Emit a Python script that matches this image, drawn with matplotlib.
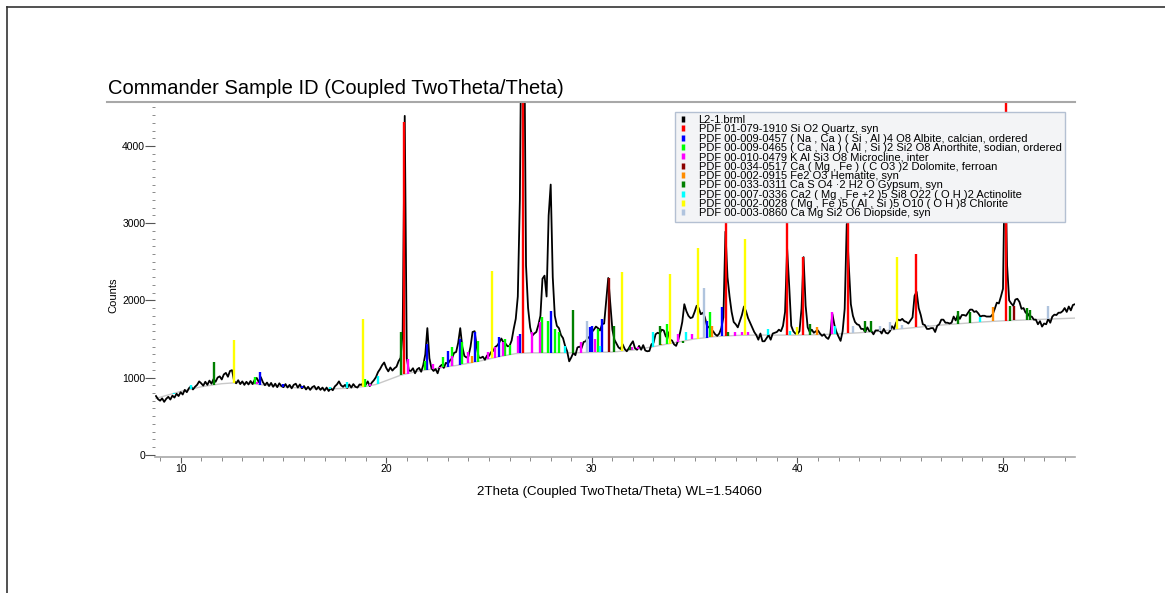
import matplotlib
matplotlib.use("Agg")
import matplotlib.pyplot as plt
from matplotlib.lines import Line2D
import numpy as np

plt.rcParams['font.family'] = ['Liberation Sans', 'DejaVu Sans']

# Measured pattern, 0.1 deg steps starting at 8.8 deg (one row per degree)
theta_start = 8.8
theta_step = 0.1
counts = [
    760, 720,
    700, 730, 685, 725, 750, 715, 765, 740, 790, 760,
    810, 780, 840, 810, 860, 885, 845, 880, 905, 950,
    925, 895, 945, 905, 960, 920, 980, 945, 1000, 1015,
    975, 1040, 1060, 1010, 1085, 1095, 955, 925, 965, 915,
    950, 905, 945, 910, 955, 915, 970, 995, 940, 1005,
    940, 900, 935, 890, 930, 880, 920, 875, 925, 890,
    875, 915, 870, 905, 860, 905, 920, 870, 910, 860,
    890, 845, 880, 840, 875, 890, 845, 880, 840, 870,
    830, 870, 825, 860, 835, 885, 910, 950, 900, 880,
    905, 865, 910, 870, 915, 880, 870, 910, 905, 940,
    905, 950, 890, 935, 965, 1005, 1070, 1110, 1160, 1195,
    1125, 1080, 1130, 1090, 1120, 1140, 1210, 1255, 1600, 4390,
    1250, 1090, 1085, 1120, 1055, 1105, 1125, 1075, 1160, 1300,
    1640, 1250, 1120, 1085, 1110, 1055, 1140, 1165, 1125, 1190,
    1180, 1220, 1250, 1320, 1330, 1450, 1640, 1400, 1280, 1260,
    1275, 1400, 1590, 1600, 1400, 1260, 1255, 1270, 1230, 1285,
    1280, 1330, 1345, 1395, 1415, 1455, 1505, 1455, 1440, 1405,
    1410, 1480, 1630, 1760, 2050, 3300, 6500, 6000, 2450, 1900,
    1650, 1540, 1570, 1590, 1680, 1800, 2280, 2320, 2050, 3100,
    3500, 2300, 1800, 1670, 1640, 1550, 1510, 1410, 1340, 1210,
    1260, 1320, 1290, 1390, 1400, 1380, 1460, 1470, 1510, 1530,
    1590, 1620, 1660, 1640, 1610, 1690, 1700, 2000, 2290, 1950,
    1620, 1490, 1440, 1390, 1370, 1430, 1370, 1340, 1380, 1430,
    1470, 1380, 1360, 1410, 1360, 1420, 1350, 1340, 1345, 1430,
    1450, 1560, 1580, 1570, 1620, 1610, 1530, 1590, 1490, 1480,
    1430, 1410, 1480, 1590, 1720, 1950, 1860, 1800, 1770, 1780,
    1850, 1930, 1900, 1820, 1840, 1780, 1670, 1650, 1620, 1600,
    1560, 1540, 1570, 1640, 1780, 2890, 2300, 2050, 1850, 1720,
    1690, 1650, 1730, 1810, 1920, 1860, 1770, 1710, 1650, 1590,
    1550, 1490, 1570, 1470, 1470, 1510, 1550, 1490, 1570, 1580,
    1590, 1620, 1600, 1670, 1850, 2670, 2190, 1670, 1600, 1570,
    1565, 1600, 1890, 2560, 1930, 1650, 1590, 1620, 1580, 1600,
    1610, 1570, 1540, 1560, 1520, 1500, 1560, 1825, 1680, 1590,
    1530, 1475, 1600, 1890, 2990, 2450, 1950, 1800, 1720, 1690,
    1680, 1630, 1630, 1590, 1650, 1600, 1600, 1560, 1610, 1610,
    1610, 1570, 1630, 1580, 1570, 1600, 1665, 1630, 1710, 1750,
    1740, 1760, 1730, 1720, 1700, 1740, 1780, 2060, 2110, 1900,
    1810, 1690, 1680, 1630, 1630, 1640, 1640, 1590, 1670, 1690,
    1750, 1750, 1710, 1710, 1700, 1710, 1790, 1740, 1810, 1760,
    1810, 1810, 1800, 1840, 1880, 1880, 1850, 1860, 1830, 1790,
    1800, 1800, 1790, 1790, 1790, 1820, 1890, 1970, 1960, 2050,
    2150, 4000, 2450, 2000, 1960, 1930, 2010, 2020, 1980, 1890,
    1900, 1840, 1830, 1790, 1790, 1750, 1750, 1690, 1730, 1660,
    1700, 1690, 1760, 1710, 1790, 1815, 1810, 1840, 1840, 1860,
    1900, 1850, 1920, 1870, 1940, 1950,
]

# Fitted background (gray curve)
bg_theta = [8.8, 10, 11, 12, 12.8, 14, 15, 16, 17, 18, 19, 19.5, 20, 20.7,
            21.5, 22.5, 23.5, 24.5, 25.5, 26.3, 27, 28, 29, 30, 31, 32, 33,
            34, 35, 36, 37, 38, 39, 40, 41, 42, 43, 44, 45, 46, 47, 48, 49,
            50, 51, 52, 53.5]
bg_counts = [730, 820, 880, 920, 935, 905, 880, 860, 850, 860, 885, 910, 960,
             1030, 1080, 1120, 1160, 1210, 1270, 1310, 1320, 1320, 1320, 1325,
             1330, 1355, 1400, 1450, 1500, 1530, 1545, 1550, 1550, 1550, 1555,
             1565, 1580, 1600, 1630, 1655, 1680, 1700, 1720, 1735, 1745, 1755,
             1770]

# Reference patterns: (2theta, top of stick in counts)
quartz = [(20.86, 4310), (26.64, 6000), (36.54, 3300), (39.47, 3300),
          (40.29, 2560), (42.45, 3300), (45.79, 2600), (50.14, 4700)]
albite = [(13.87, 1075), (15.0, 920), (15.9, 895), (22.0, 1435), (23.0, 1350),
          (23.6, 1500), (24.3, 1590), (25.47, 1530), (26.5, 1565),
          (28.03, 1865), (29.9, 1655), (30.0, 1670), (30.5, 1760),
          (35.6, 1735), (36.33, 1915)]
anorthite = [(13.6, 1010), (18.95, 985), (21.9, 1215), (22.75, 1270),
             (23.2, 1400), (23.7, 1460), (24.45, 1475), (25.76, 1500),
             (26.0, 1420), (27.57, 1785), (27.86, 1735), (28.2, 1630),
             (28.4, 1590), (30.3, 1630), (33.64, 1695), (35.75, 1850)]
microcline = [(13.7, 945), (19.2, 920), (21.05, 1240), (22.26, 1180),
              (22.6, 1140), (23.19, 1280), (23.97, 1330), (24.95, 1330),
              (25.28, 1400), (25.66, 1460), (26.4, 1540), (27.08, 1590),
              (27.47, 1720), (29.46, 1460), (30.15, 1500), (31.95, 1400),
              (32.25, 1390), (34.2, 1565), (34.87, 1565), (36.95, 1590),
              (37.3, 1590), (37.6, 1590), (41.68, 1850)]
dolomite = [(30.83, 2290), (50.55, 1930)]
hematite = [(24.15, 1280), (33.35, 1435), (35.84, 1670), (40.95, 1650),
            (49.5, 1910)]
gypsum = [(11.6, 1200), (20.7, 1590), (29.07, 1880), (31.1, 1670),
          (31.85, 1400), (33.3, 1670), (34.45, 1450), (36.6, 1590),
          (40.6, 1695), (43.28, 1735), (43.6, 1735), (47.8, 1865),
          (48.4, 1850), (50.35, 1930), (51.17, 1900), (51.3, 1880)]
actinolite = [(9.7, 790), (10.5, 900), (17.25, 880), (18.1, 945), (19.6, 1020),
              (28.7, 1410), (30.4, 1410), (32.97, 1590), (34.6, 1590),
              (38.56, 1630), (39.63, 1600), (41.82, 1670), (48.88, 1780)]
chlorite = [(12.6, 1480), (18.86, 1760), (25.13, 2380), (31.46, 2370),
            (33.8, 2340), (35.16, 2680), (37.45, 2800), (40.0, 1650),
            (44.85, 2560)]
diopside = [(29.76, 1735), (35.45, 2160), (42.7, 1670), (44.0, 1670),
            (44.5, 1720), (45.1, 1680), (46.35, 1680), (52.2, 1930)]

phases = [quartz, albite, anorthite, microcline, dolomite, hematite,
          gypsum, actinolite, chlorite, diopside]
phase_colors = ['#ff0000', '#0000ff', '#00ff00', '#ff00ff', '#8b0000',
                '#ff8c00', '#008000', '#00ffff', '#ffff00', '#b0c4de']
legend_labels = [
    "L2-1.brml",
    "PDF 01-079-1910 Si O2 Quartz, syn",
    "PDF 00-009-0457 ( Na , Ca ) ( Si , Al )4 O8 Albite, calcian, ordered",
    "PDF 00-009-0465 ( Ca , Na ) ( Al , Si )2 Si2 O8 Anorthite, sodian, ordered",
    "PDF 00-010-0479 K Al Si3 O8 Microcline, inter",
    "PDF 00-034-0517 Ca ( Mg , Fe ) ( C O3 )2 Dolomite, ferroan",
    "PDF 00-002-0915 Fe2 O3 Hematite, syn",
    "PDF 00-033-0311 Ca S O4 \u00b72 H2 O Gypsum, syn",
    "PDF 00-007-0336 Ca2 ( Mg , Fe +2 )5 Si8 O22 ( O H )2 Actinolite",
    "PDF 00-002-0028 ( Mg , Fe )5 ( Al , Si )5 O10 ( O H )8 Chlorite",
    "PDF 00-003-0860 Ca Mg Si2 O6 Diopside, syn",
]

two_theta = np.round(theta_start + theta_step * np.arange(len(counts)), 2)

fig = plt.figure(figsize=(11.65, 5.93), dpi=100)
ax = fig.add_axes([0.133, 0.2293, 0.7897, 0.5987])

ax.plot(bg_theta, bg_counts, color='#c8c8c8', lw=1.0, zorder=1)
ax.plot(two_theta, counts, color='black', lw=1.3, zorder=2)

# sticks start on the background curve
for sticks, c in zip(phases, phase_colors):
    pos = np.array([s[0] for s in sticks])
    top = np.array([s[1] for s in sticks])
    base = np.interp(pos, bg_theta, bg_counts)
    ax.vlines(pos, base, top, colors=c, lw=1.7, zorder=3)

ax.set_xlim(8.75, 53.5)
ax.set_ylim(-30, 4570)
ax.set_xticks([10, 20, 30, 40, 50])
ax.set_xticks(np.arange(9, 54), minor=True)
ax.set_yticks([0, 1000, 2000, 3000, 4000])
ax.set_yticks(np.arange(0, 4600, 100), minor=True)
ax.tick_params(axis='both', which='major', labelsize=7.5, color='#555555',
               width=0.8)
ax.tick_params(axis='y', which='major', length=7, pad=0)
ax.tick_params(axis='y', which='minor', length=2, color='#777777')
ax.tick_params(axis='x', which='major', length=4, pad=1)
ax.tick_params(axis='x', which='minor', length=3, color='#777777')

for side in ['top', 'right', 'left']:
    ax.spines[side].set_visible(False)
ax.spines['bottom'].set_color('#a8a8a8')
ax.spines['bottom'].set_linewidth(1.2)

ax.set_xlabel("2Theta (Coupled TwoTheta/Theta) WL=1.54060", fontsize=9.6)
ax.xaxis.set_label_coords(0.505, -0.083)
ax.set_ylabel("Counts", fontsize=8)
ax.yaxis.set_label_coords(-0.04, 0.456)

handles = [Line2D([], [], color='black', marker='|', linestyle='None',
                  markersize=5, markeredgewidth=2.5)]
for c in phase_colors:
    handles.append(Line2D([], [], color=c, marker='|', linestyle='None',
                          markersize=5, markeredgewidth=2.5))
leg = ax.legend(handles, legend_labels, loc='upper right',
                bbox_to_anchor=(0.989, 0.973), borderaxespad=0, fontsize=8.0,
                labelspacing=-0.06, handletextpad=1.0, handlelength=0.8,
                borderpad=0.3, fancybox=False, framealpha=1)
leg.get_frame().set_facecolor('#f3f4f6')
leg.get_frame().set_edgecolor('#b4c0d2')
leg.set_zorder(5)

fig.text(108 / 1165, 1 - 88 / 593,
         "Commander Sample ID (Coupled TwoTheta/Theta)",
         fontsize=14.5, va='center', ha='left')

# title underline and page frame
fig.add_artist(Line2D([0.0918, 0.923], [0.828, 0.828], color='#a8a8a8',
                      lw=1.5, transform=fig.transFigure))
fig.add_artist(Line2D([0.006, 0.006], [0.0, 0.988], color='#333333',
                      lw=1.2, transform=fig.transFigure))
fig.add_artist(Line2D([0.006, 1.0], [0.988, 0.988], color='#333333',
                      lw=1.2, transform=fig.transFigure))

fig.savefig("out.png", dpi=100)
